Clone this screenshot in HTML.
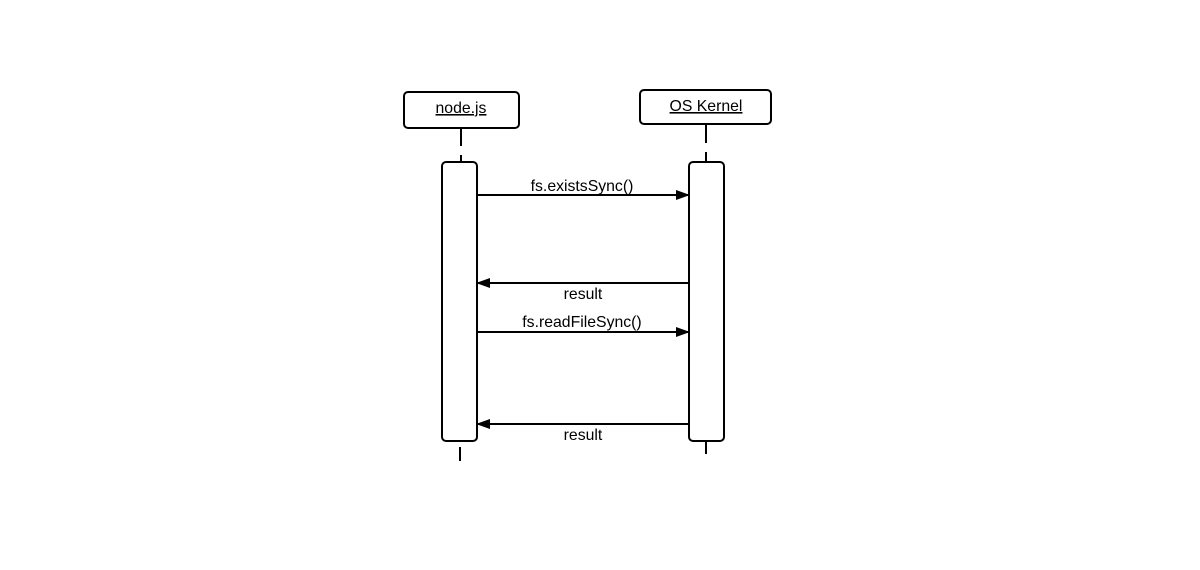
<!DOCTYPE html>
<html><head><style>body{margin:0;background:#fff}</style></head><body>
<svg width="1200" height="565" xmlns="http://www.w3.org/2000/svg" font-family="Liberation Sans, sans-serif" font-size="15.8">
<defs><marker id="a" markerWidth="14" markerHeight="10" refX="13" refY="5" orient="auto" markerUnits="userSpaceOnUse"><path d="M0,0 L14,5 L0,10z" fill="#000"/></marker></defs>
<g stroke="#000" stroke-width="2" fill="none">
<rect x="404" y="92" width="115" height="36" rx="4" fill="#fff"/>
<rect x="640" y="90" width="131" height="34" rx="4" fill="#fff"/>
<line x1="461" y1="128" x2="461" y2="146"/><line x1="461" y1="155" x2="461" y2="162"/>
<line x1="706" y1="124" x2="706" y2="143"/><line x1="706" y1="152" x2="706" y2="162"/>
<rect x="442" y="162" width="35" height="279" rx="4" fill="#fff"/>
<rect x="689" y="162" width="35" height="279" rx="4" fill="#fff"/>
<line x1="460" y1="447" x2="460" y2="461"/>
<line x1="706" y1="441" x2="706" y2="454"/>
<line x1="477" y1="195" x2="689" y2="195" marker-end="url(#a)"/>
<line x1="689" y1="283" x2="477" y2="283" marker-end="url(#a)"/>
<line x1="477" y1="332" x2="689" y2="332" marker-end="url(#a)"/>
<line x1="689" y1="424" x2="477" y2="424" marker-end="url(#a)"/>
</g>
<g text-anchor="middle" fill="#000">
<text x="461" y="113" text-decoration="underline">node.js</text>
<text x="706" y="111" text-decoration="underline">OS Kernel</text>
<text x="582" y="191">fs.existsSync()</text>
<text x="583" y="299">result</text>
<text x="582" y="327">fs.readFileSync()</text>
<text x="583" y="440">result</text>
</g>
</svg>
</body></html>
